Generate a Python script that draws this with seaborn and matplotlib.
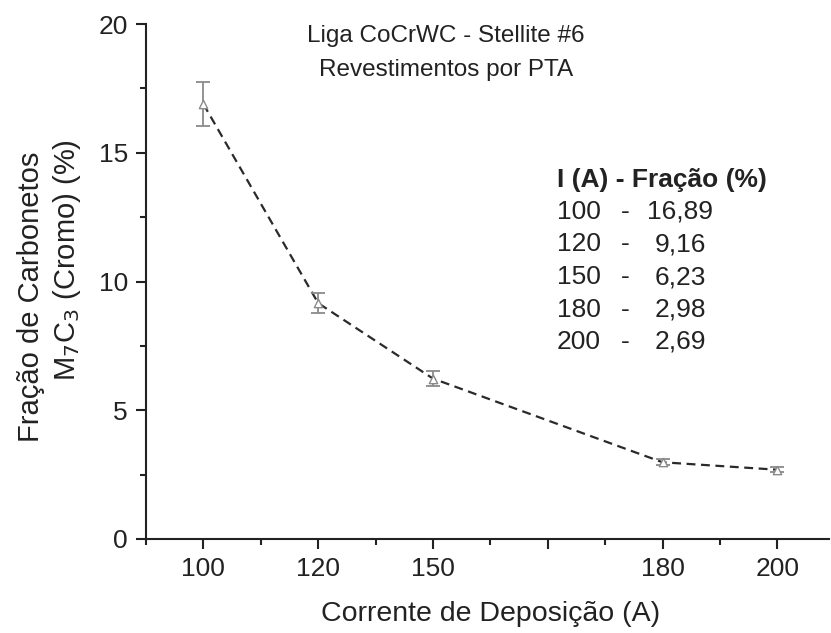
import matplotlib
matplotlib.use("Agg")
import matplotlib.pyplot as plt
import seaborn as sns
import pandas as pd
from matplotlib.ticker import MultipleLocator, FixedLocator, FixedFormatter

# Data
corrente = [100, 120, 150, 180, 200]          # deposition current labels (A)
corrente_eixo = [100, 120, 140, 180, 200]     # position on axis where points are drawn
fracao = [16.89, 9.16, 6.23, 2.98, 2.69]      # M7C3 fraction (%)
erro = [0.85, 0.40, 0.30, 0.12, 0.10]         # error bars
tick_pos = [100, 120, 140, 160, 180, 200]
tick_labels = ["100", "120", "150", "", "180", "200"]

df = pd.DataFrame({"x": corrente_eixo, "y": fracao, "e": erro})

sns.set_style("ticks")
plt.rcParams["font.family"] = ["Liberation Sans", "DejaVu Sans"]

W, H = 831, 633
fig = plt.figure(figsize=(W / 100, H / 100), dpi=100)
AX_L, AX_R, AX_T, AX_B = 146, 829, 24, 539
ax = fig.add_axes([AX_L / W, 1 - AX_B / H, (AX_R - AX_L) / W, (AX_B - AX_T) / H])

sns.lineplot(data=df, x="x", y="y", ax=ax, color="#2a2a2a", linestyle=(0, (4, 2.5)),
             linewidth=1.6, zorder=2)
ax.errorbar(df["x"], df["y"], yerr=df["e"], fmt="none", ecolor="#8a8a8a",
            elinewidth=1.3, capsize=5, capthick=1.3, zorder=3)
sns.scatterplot(data=df, x="x", y="y", ax=ax, marker="^", s=36,
                facecolor="white", edgecolor="#8a8a8a", linewidth=1.0, zorder=4)

ax.set_xlim(90, 209)
ax.set_ylim(0, 20)
ax.xaxis.set_major_locator(FixedLocator(tick_pos))
ax.xaxis.set_major_formatter(FixedFormatter(tick_labels))
ax.xaxis.set_minor_locator(MultipleLocator(10))
ax.yaxis.set_major_locator(MultipleLocator(5))
ax.yaxis.set_minor_locator(MultipleLocator(2.5))

for s in ["top", "right"]:
    ax.spines[s].set_visible(False)
for s in ["left", "bottom"]:
    ax.spines[s].set_linewidth(1.5)
    ax.spines[s].set_color("#222222")

ax.tick_params(which="major", length=7, width=1.5, labelsize=19, direction="out",
               colors="#222222", pad=6)
ax.tick_params(which="minor", length=4, width=1.5, direction="out", colors="#222222")

ax.set_xlabel("")
ax.set_ylabel("")

def fx(px):
    return px / W

def fy(py):
    return 1 - py / H

fig.text(fx(491), fy(614), "Corrente de Deposição (A)", ha="center", va="center",
         fontsize=20.5, color="#222222")
fig.text(fx(31), fy(297), "Fração de Carbonetos", ha="center", va="center",
         rotation=90, fontsize=21, color="#222222")
fig.text(fx(67), fy(260), "M$_7$C$_3$ (Cromo) (%)", ha="center", va="center",
         rotation=90, fontsize=21, color="#222222")

fig.text(fx(446), fy(36), "Liga CoCrWC - Stellite #6", ha="center", va="center",
         fontsize=17.5, color="#222222")
fig.text(fx(446), fy(70), "Revestimentos por PTA", ha="center", va="center",
         fontsize=17.5, color="#222222")

# table text
fig.text(fx(557), fy(180), "I (A) - Fração (%)", ha="left", va="center",
         fontsize=19, fontweight="bold", color="#222222")
for i, (c, f) in enumerate(zip(corrente, fracao)):
    yy = fy(212 + i * 32.5)
    fig.text(fx(557), yy, f"{c}", ha="left", va="center", fontsize=19, color="#222222")
    fig.text(fx(625), yy, "-", ha="center", va="center", fontsize=19, color="#222222")
    fig.text(fx(680), yy, f"{f:.2f}".replace(".", ","), ha="center", va="center",
             fontsize=19, color="#222222")

fig.savefig("out.png", dpi=100)
